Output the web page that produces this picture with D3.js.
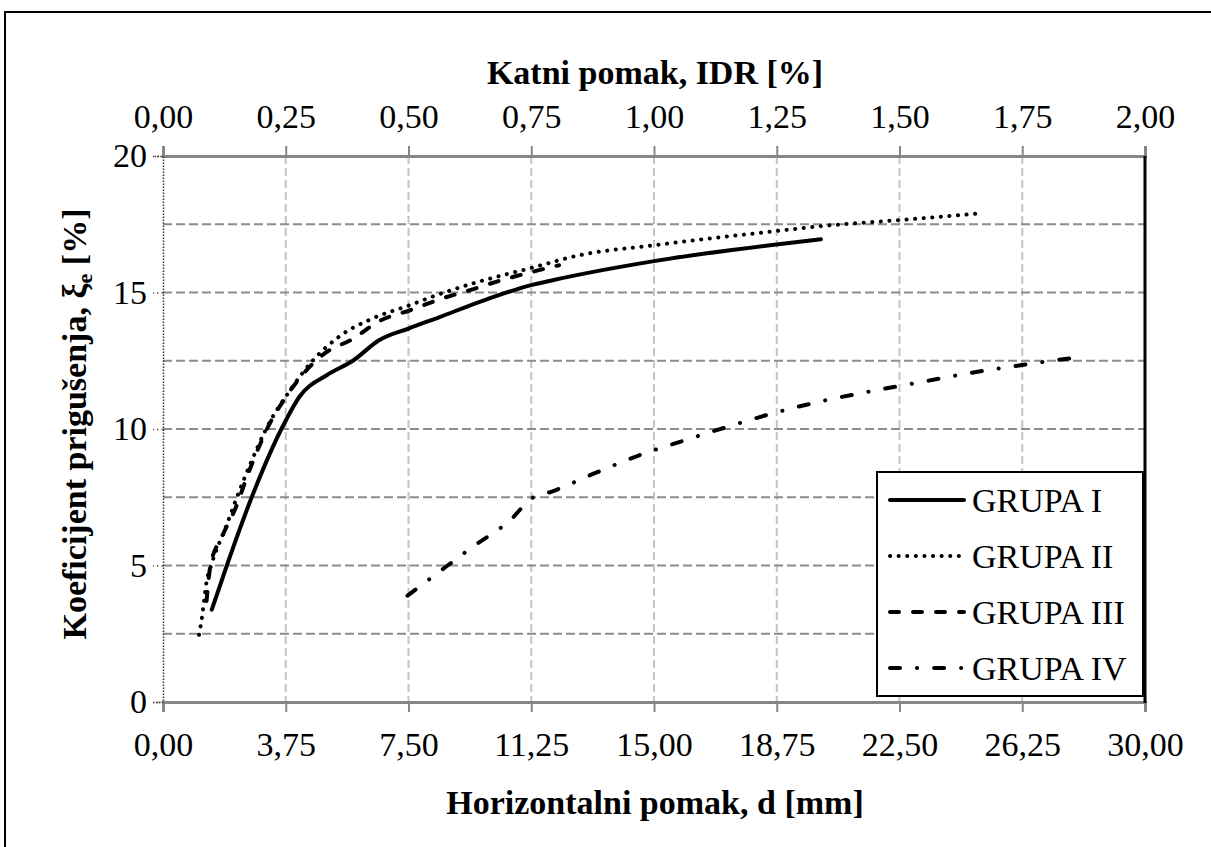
<!DOCTYPE html>
<html><head><meta charset="utf-8">
<script src="https://cdn.jsdelivr.net/npm/d3@7"></script>
<style>
html,body{margin:0;padding:0;background:#fff;}
svg{display:block;}
</style></head>
<body>
<svg id="chart" width="1211" height="847"></svg>
<script>
// ---- data ----
const xTicks = [0, 3.75, 7.5, 11.25, 15, 18.75, 22.5, 26.25, 30];
const xTopTicks = [0, 0.25, 0.5, 0.75, 1, 1.25, 1.5, 1.75, 2];
const yTicks = [0, 5, 10, 15, 20];
const yGrid = [2.5, 5, 7.5, 10, 12.5, 15, 17.5];
const seriesNames = ["GRUPA I", "GRUPA II", "GRUPA III", "GRUPA IV"];

const g1x = [1.49, 1.95, 2.71, 3.66, 4.18, 5.0, 5.8, 6.6, 7.5, 8.45, 9.66, 11.25, 11.9, 15.0, 18.8, 20.1];
const g1y = [3.38, 5.0, 7.5, 10.1, 11.2, 11.97, 12.5, 13.25, 13.68, 14.1, 14.65, 15.27, 15.45, 16.15, 16.77, 16.95];

const g2x = [1.1, 1.19, 1.33, 1.47, 1.95, 2.26, 2.65, 3.15, 3.87, 4.57, 5.4, 6.4, 7.5, 8.35, 9.66, 11.25, 12.7, 15.0, 18.8, 20.1, 22.47, 25.0];
const g2y = [2.46, 3.1, 4.4, 5.0, 6.5, 7.5, 8.67, 10.0, 11.4, 12.5, 13.4, 14.05, 14.52, 14.9, 15.4, 15.9, 16.36, 16.73, 17.26, 17.43, 17.65, 17.9];

const g3x = [1.33, 1.45, 1.8, 2.25, 2.55, 2.87, 3.26, 3.66, 4.27, 4.94, 5.8, 6.6, 7.55, 8.45, 9.36, 10.2, 11.1, 12.1];
const g3y = [3.7, 5.0, 6.05, 7.2, 8.2, 9.17, 10.2, 11.0, 12.0, 12.77, 13.3, 13.95, 14.35, 14.75, 15.08, 15.4, 15.7, 16.0];

const g4x = [7.47, 8.23, 9.42, 10.64, 11.25, 11.86, 13.23, 14.6, 15.98, 17.38, 18.8, 20.24, 21.7, 23.2, 24.65, 26.1, 27.8];
const g4y = [3.9, 4.58, 5.65, 6.7, 7.45, 7.7, 8.4, 9.06, 9.6, 10.13, 10.63, 11.05, 11.4, 11.73, 12.05, 12.32, 12.6];

const seriesX = [g1x, g2x, g3x, g4x];
const seriesY = [g1y, g2y, g3y, g4y];

// ---- layout ----
const FONT = "'Liberation Serif', 'Times New Roman', serif";
const FS = 34;
const L = 163, R = 1145, T = 156, B = 702;
const svg = d3.select("#chart");
const x = d3.scaleLinear().domain([0, 30]).range([L, R]);
const xTop = d3.scaleLinear().domain([0, 2]).range([L, R]);
const y = d3.scaleLinear().domain([0, 20]).range([B, T]);
const fmt = v => d3.format(".2f")(v).replace(".", ",");

// outer frame
svg.append("rect").attr("x", 5).attr("y", 12).attr("width", 1400).attr("height", 1000)
  .attr("fill", "none").attr("stroke", "#000").attr("stroke-width", 2);

// grid
svg.append("g").selectAll("line").data(xTicks.slice(1, -1)).join("line")
  .attr("x1", d => x(d)).attr("x2", d => x(d)).attr("y1", T).attr("y2", B)
  .attr("stroke", "#c4c4c4").attr("stroke-width", 2).attr("stroke-dasharray", "8,4");
svg.append("g").selectAll("line").data(yGrid).join("line")
  .attr("x1", L).attr("x2", R).attr("y1", d => y(d)).attr("y2", d => y(d))
  .attr("stroke", "#8c8c8c").attr("stroke-width", 2).attr("stroke-dasharray", "9,4");

// axes
const axB = svg.append("g").attr("transform", `translate(0,${B})`)
  .call(d3.axisBottom(x).tickValues(xTicks).tickFormat(fmt).tickSize(10).tickPadding(20));
const axT = svg.append("g").attr("transform", `translate(0,${T})`)
  .call(d3.axisTop(xTop).tickValues(xTopTicks).tickFormat(fmt).tickSize(10).tickPadding(18));
[axB, axT].forEach(a => {
  a.select(".domain").attr("stroke", "#868686").attr("stroke-width", 3);
  a.selectAll(".tick line").attr("stroke", "#868686").attr("stroke-width", 2);
});
const axL = svg.append("g").attr("transform", `translate(${L},0)`)
  .call(d3.axisLeft(y).tickValues(yTicks).tickSize(10).tickPadding(6));
axL.select(".domain").attr("stroke", "#333").attr("stroke-width", 1.5).attr("stroke-dasharray", "1.5,1.5");
axL.selectAll(".tick line").attr("stroke", "#555").attr("stroke-width", 1.5).attr("stroke-dasharray", "1.5,3");
[axB, axT, axL].forEach(a => {
  a.attr("font-family", null).attr("font-size", null);
  a.selectAll("text").style("font-family", FONT).style("font-size", FS + "px").attr("fill", "#000");
});

// right border of plot
svg.append("line").attr("x1", R).attr("x2", R).attr("y1", T).attr("y2", B + 1)
  .attr("stroke", "#000").attr("stroke-width", 3);

// titles
const title = (sel) => sel.style("font-family", FONT).style("font-size", FS + "px").style("font-weight", "bold");
svg.append("text").attr("x", 655).attr("y", 84).attr("text-anchor", "middle")
  .call(title).text("Katni pomak, IDR [%]");
svg.append("text").attr("x", 655).attr("y", 814).attr("text-anchor", "middle")
  .call(title).text("Horizontalni pomak, d [mm]");
const yt = svg.append("text").attr("transform", "translate(86,424) rotate(-90)")
  .attr("text-anchor", "middle").call(title);
yt.append("tspan").text("Koeficijent prigušenja, ξ");
yt.append("tspan").style("font-size", "22px").attr("dy", 6).text("e");
yt.append("tspan").attr("dy", -6).text(" [%]");

// series
const styles = [
  {dash: null, cap: "round", w: 4},
  {dash: "0.1,8.5", cap: "round", w: 4},
  {dash: "9,14", cap: "round", w: 4},
  {dash: "10,17,0.1,17", cap: "round", w: 4}
];
const line = d3.line().x(d => x(d[0])).y(d => y(d[1])).curve(d3.curveMonotoneX);
seriesX.forEach((xs, i) => {
  const pts = xs.map((v, j) => [v, seriesY[i][j]]);
  svg.append("path").datum(pts).attr("d", line).attr("fill", "none")
    .attr("stroke", "#000").attr("stroke-width", styles[i].w)
    .attr("stroke-linecap", styles[i].cap)
    .attr("stroke-dasharray", styles[i].dash);
});

// legend
const lg = svg.append("g");
lg.append("rect").attr("x", 877).attr("y", 472).attr("width", 266).attr("height", 224)
  .attr("fill", "#fff").attr("stroke", "#000").attr("stroke-width", 2);
const rowY = [500, 556, 612, 668];
seriesNames.forEach((n, i) => {
  lg.append("line").attr("x1", 890).attr("x2", 964).attr("y1", rowY[i]).attr("y2", rowY[i])
    .attr("stroke", "#000").attr("stroke-width", styles[i].w)
    .attr("stroke-linecap", styles[i].cap).attr("stroke-dasharray", styles[i].dash);
  lg.append("text").attr("x", 972).attr("y", rowY[i]).attr("dy", "0.35em")
    .style("font-family", FONT).style("font-size", FS + "px").text(n);
});
</script>
</body></html>
